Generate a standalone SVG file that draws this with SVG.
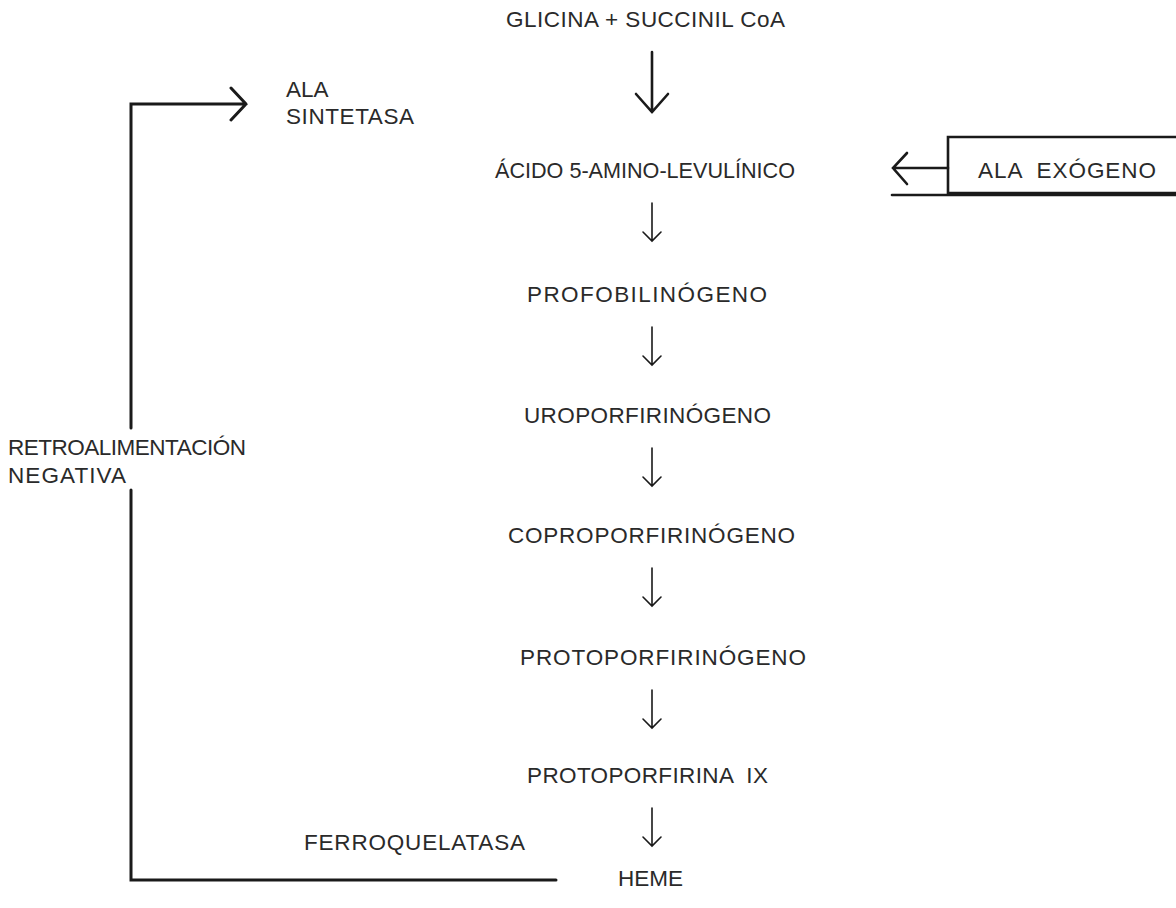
<svg xmlns="http://www.w3.org/2000/svg" width="1176" height="908" viewBox="0 0 1176 908">
<style>
text{font-family:"Liberation Sans",Arial,sans-serif;font-size:22.5px;fill:#2a2a2a}
.ln{fill:none;stroke:#1a1a1a;stroke-linecap:round;stroke-linejoin:miter}
.sm{stroke-width:1.6}
.bg{stroke-width:2.6}
.fb{stroke-width:3}
</style>
<rect width="1176" height="908" fill="#fff"/>
<g id="glicina"><text x="506" y="27" textLength="279" lengthAdjust="spacing">GLICINA + SUCCINIL CoA</text></g>
<g id="ala-sintetasa"><text x="286" y="97">ALA</text><text x="286" y="124" textLength="128" lengthAdjust="spacing">SINTETASA</text></g>
<g id="acido"><text x="495" y="178" textLength="300" lengthAdjust="spacingAndGlyphs">ÁCIDO 5-AMINO-LEVULÍNICO</text></g>
<g id="ala-exogeno">
<path class="ln bg" d="M1176,137 H948 V193 H1176"/>
<text x="978" y="178" xml:space="preserve" textLength="178" lengthAdjust="spacing">ALA  EXÓGENO</text>
</g>
<g id="profobilinogeno"><text x="527" y="302" textLength="240" lengthAdjust="spacing">PROFOBILINÓGENO</text></g>
<g id="uroporfirinogeno"><text x="524" y="423" textLength="247" lengthAdjust="spacing">UROPORFIRINÓGENO</text></g>
<g id="coproporfirinogeno"><text x="508" y="543" textLength="287" lengthAdjust="spacing">COPROPORFIRINÓGENO</text></g>
<g id="protoporfirinogeno"><text x="520" y="665" textLength="286" lengthAdjust="spacing">PROTOPORFIRINÓGENO</text></g>
<g id="protoporfirina"><text x="527" y="783" xml:space="preserve" textLength="241" lengthAdjust="spacing">PROTOPORFIRINA  IX</text></g>
<g id="ferroquelatasa"><text x="304" y="850" textLength="221" lengthAdjust="spacing">FERROQUELATASA</text></g>
<g id="heme"><text x="618" y="886">HEME</text></g>
<g id="retro"><text x="8" y="455" textLength="238" lengthAdjust="spacing">RETROALIMENTACIÓN</text><text x="8" y="483" textLength="118" lengthAdjust="spacing">NEGATIVA</text></g>
<g id="connectors">
<path class="ln bg" d="M652,52 V112 M636,94 L652,112 L668,94"/>
<path class="ln sm" d="M652,203 V241 M643,232 L652,241 L661,232"/>
<path class="ln sm" d="M652,327 V365 M643,356 L652,365 L661,356"/>
<path class="ln sm" d="M652,448 V486 M643,477 L652,486 L661,477"/>
<path class="ln sm" d="M652,568 V606 M643,597 L652,606 L661,597"/>
<path class="ln sm" d="M652,690 V728 M643,719 L652,728 L661,719"/>
<path class="ln sm" d="M652,808 V846 M643,837 L652,846 L661,837"/>
<path class="ln bg" d="M948,168 H893 M907,153 L893,168 L907,184"/>
<path class="ln bg" d="M892,195 H1176"/>
<path class="ln fb" d="M556,880 H131 V490"/>
<path class="ln fb" d="M131,428 V104 H246 M231,88 L246,104 L231,120"/>
</g>
</svg>
